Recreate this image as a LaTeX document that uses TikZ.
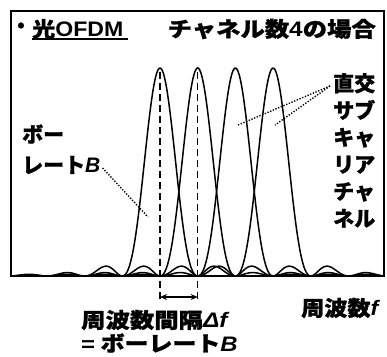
\documentclass[tikz,border=0pt]{standalone}
\usepackage{fontspec}
\setmainfont{Liberation Sans}
\newfontfamily\jp{Noto Sans CJK JP}[BoldFeatures={FakeBold=1}]
\usetikzlibrary{arrows.meta}
\begin{document}
\begin{tikzpicture}[x=1pt,y=-1pt,
  spec/.style={line width=1.5pt, line join=round},
  frame/.style={line width=1.5pt},
  jtxt/.style={inner sep=0pt, font=\fontsize{21}{27}\selectfont\jp\bfseries},
  guide/.style={line width=1.4pt, dash pattern=on 7pt off 4pt},
  leader/.style={line width=1.4pt, dash pattern=on 1.3pt off 1.6pt},
  dim/.style={line width=1.3pt, {Stealth[length=7pt,width=6pt]}-{Stealth[length=7pt,width=6pt]}}]
\useasboundingbox (0,0) rectangle (387,356);
\fill[white] (0,0) rectangle (387,356);
% frame
\draw[frame] (11,11) rectangle (384,276);
% spectra
\foreach \c in {160,197.7,235.4,273.1}{
  \draw[spec] plot[domain=11:384, samples=500] (\x, {276-208*(sin(4.7745*(\x-\c))/(0.083333*(\x-\c)))^2});
}
% guides
\coordinate (g1t) at (160,72); \coordinate (g1b) at (160,302);
\coordinate (g2t) at (197.7,72); \coordinate (g2b) at (197.7,302);
\draw[guide] (g1t) -- (g1b);
\draw[guide] (g2t) -- (g2b);
\coordinate (a1) at (160,297); \coordinate (a2) at (197.7,297);
\draw[dim] (a1) -- (a2);
% texts
\node[jtxt] (dot) at (21,28) {・};
\node[jtxt, anchor=west] (ofdm) at (32,29) {\scalebox{1.1}[1]{光{\rmfamily OFDM}}};
\coordinate (ul1) at (32,39); \coordinate (ul2) at (128,39);
\draw[line width=1.4pt] (ul1) -- (ul2);
\node[jtxt, anchor=east] (title) at (376,29) {\scalebox{1.16}[1]{チャネル数{\rmfamily 4}の場合}};
\node[jtxt, anchor=north west, align=left] (orth) at (333,73) {直交\\サブ\\キャ\\リア\\チャ\\ネル};
\node[jtxt, anchor=west] (baud1) at (22,134) {ボー};
\node[jtxt, anchor=west] (baud2) at (22,165) {レート{\rmfamily\itshape B}};
\node[jtxt, anchor=west] (sp1) at (81,320) {\scalebox{1.16}[1]{周波数間隔{\rmfamily\itshape Δf}}};
\node[jtxt, anchor=west] (sp2) at (81,343) {\scalebox{1.14}[1]{{\rmfamily =} ボーレート{\rmfamily\itshape B}}};
\node[jtxt, anchor=west] (freq) at (301,308) {\scalebox{1.1}[1]{周波数{\rmfamily\itshape f}}};
% leaders
\coordinate (lb) at (148,217);
\draw[leader] (baud2.east) ++(2,3) -- (lb);
\coordinate (lo) at (330,86);
\coordinate (le1) at (238,125); \coordinate (le2) at (275,125);
\draw[leader] (lo) -- (le1);
\draw[leader] (lo) -- (le2);
\end{tikzpicture}
\end{document}
